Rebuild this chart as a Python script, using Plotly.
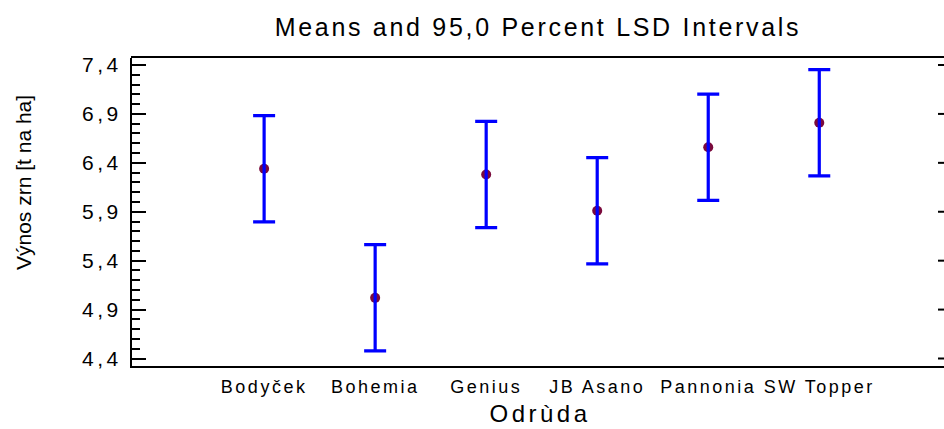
import plotly.graph_objects as go

# Grain yield by variety: means with 95% LSD half-widths
categories = ["Bodyček", "Bohemia", "Genius", "JB Asano", "Pannonia", "SW Topper"]
means = [6.34, 5.02, 6.28, 5.91, 6.56, 6.81]
lsd_half = [0.543, 0.543, 0.543, 0.543, 0.543, 0.543]

y_ticks = [4.4, 4.9, 5.4, 5.9, 6.4, 6.9, 7.4]

FONT = "Liberation Sans, Arial, sans-serif"
W, H = 944, 429
ML, MR, MT, MB = 132, 0, 58, 63
plot_w = W - ML - MR
plot_h = H - MT - MB

fig = go.Figure()

# mean points
fig.add_trace(go.Scatter(
    x=categories, y=means, mode="markers",
    marker=dict(color="#7a0a3c", size=10, line=dict(width=0)),
    showlegend=False, hoverinfo="skip",
))
# LSD intervals drawn over the points
fig.add_trace(go.Scatter(
    x=categories, y=means, mode="markers",
    marker=dict(size=1, opacity=0),
    error_y=dict(type="data", array=lsd_half, symmetric=True,
                 color="#0000ff", thickness=3.2, width=11),
    showlegend=False, hoverinfo="skip",
))

y_range = [4.3233, 7.4716]
x_right = (944 - MR - 264.3) / 111

# open right side of the frame, its top edge, and short right-hand ticks
shapes = [
    dict(type="line", xref="paper", yref="paper", x0=1 - 1 / plot_w, x1=1 - 1 / plot_w,
         y0=-0.01, y1=1.01, line=dict(color="white", width=5)),
    dict(type="line", xref="paper", yref="paper", x0=-1 / plot_w, x1=1.01,
         y0=1 + 1 / plot_h, y1=1 + 1 / plot_h, line=dict(color="black", width=2)),
    dict(type="line", xref="paper", yref="paper", x0=-1 / plot_w, x1=1.01,
         y0=-1 / plot_h, y1=-1 / plot_h, line=dict(color="black", width=2)),
]
for t in y_ticks:
    shapes.append(dict(type="line", xref="paper", yref="y",
                       x0=1 - 6 / plot_w, x1=1.01, y0=t, y1=t,
                       line=dict(color="black", width=2)))

fig.update_layout(
    template="none",
    width=W, height=H, autosize=False,
    margin=dict(l=ML, r=MR, t=MT, b=MB, pad=0),
    paper_bgcolor="white", plot_bgcolor="white",
    separators=", ",
    font=dict(family=FONT, color="black"),
    title=dict(
        text="Means and 95,0 Percent LSD Intervals",
        font=dict(size=25, family=FONT, color="black"),
        x=0.5, xref="paper", xanchor="center",
        y=1 - 27 / H, yref="container", yanchor="middle",
    ),
    xaxis=dict(
        type="category", range=[-1.19, x_right],
        showgrid=False, zeroline=False,
        showline=True, linecolor="black", linewidth=2, mirror=False,
        ticks="", tickfont=dict(size=18, family=FONT, color="black"),
        ticklabelstandoff=3,
    ),
    yaxis=dict(
        range=y_range, tickmode="array", tickvals=y_ticks,
        tickformat=".1f",
        showgrid=False, zeroline=False,
        showline=True, linecolor="black", linewidth=2, mirror=False,
        ticks="inside", ticklen=14, tickwidth=2, tickcolor="black",
        tickfont=dict(size=21, family=FONT, color="black"),
        ticklabelstandoff=4,
        minor=dict(ticks="inside", ticklen=8, tickwidth=2, tickcolor="black",
                   tick0=4.4, dtick=0.1, showgrid=False),
    ),
    shapes=shapes,
    annotations=[
        dict(text="Odrùda", x=(540 - ML) / plot_w, y=(H - MB - 413) / plot_h,
             xref="paper", yref="paper", xanchor="center", yanchor="middle",
             showarrow=False, font=dict(size=24, family=FONT, color="black")),
        dict(text="Výnos zrn [t na ha]", x=(23 - ML) / plot_w,
             y=(H - MB - 183) / plot_h, textangle=-90,
             xref="paper", yref="paper", xanchor="center", yanchor="middle",
             showarrow=False, font=dict(size=21, family=FONT, color="black")),
    ],
)

# widen the horizontal lettering
post = """
var gd = document.getElementById('{plot_id}');
function widen() {
  gd.querySelectorAll('.gtitle').forEach(function(e){ e.style.letterSpacing = '2.7px'; });
  gd.querySelectorAll('.xtick text').forEach(function(e){ e.style.letterSpacing = '2.5px'; });
  gd.querySelectorAll('.ytick text').forEach(function(e){ e.style.letterSpacing = '3.5px'; });
  var ann = gd.querySelectorAll('.annotation-text');
  if (ann.length) { ann[0].style.letterSpacing = '3.5px'; }
}
widen();
gd.on('plotly_afterplot', widen);
"""

fig.write_html("out.html", post_script=post)
